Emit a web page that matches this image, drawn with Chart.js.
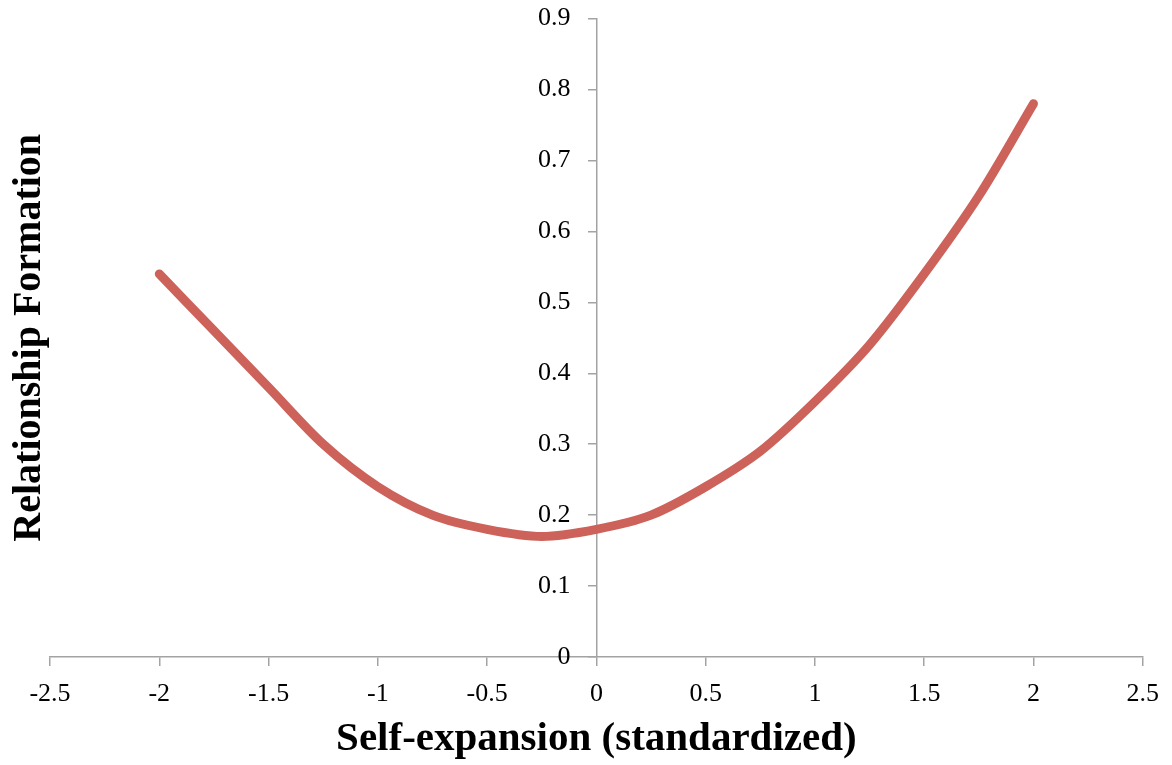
<!DOCTYPE html>
<html>
<head>
<meta charset="utf-8">
<script src="https://cdn.jsdelivr.net/npm/chart.js@4/dist/chart.umd.min.js"></script>
<style>
  html, body { margin: 0; padding: 0; background: #fff; }
  #wrap { width: 1172px; height: 765px; }
</style>
</head>
<body>
<div id="wrap"><canvas id="grafico" width="1172" height="765"></canvas></div>
<script>
// valores
const selfExpansion = [-2, -1.75, -1.5, -1.25, -1, -0.75, -0.5, -0.25, 0, 0.25, 0.5, 0.75, 1, 1.25, 1.5, 1.75, 2];
const formation = [0.54, 0.46, 0.38, 0.30, 0.24, 0.20, 0.18, 0.17, 0.18, 0.20, 0.24, 0.29, 0.36, 0.44, 0.54, 0.65, 0.78];

const xTitulo = 'Self-expansion (standardized)';
const yTitulo = 'Relationship Formation';

const pontos = selfExpansion.map((x, i) => ({ x: x, y: formation[i] }));

const corEixo = '#a3a3a3';
const fonte = 'Liberation Serif';

// formata 0.30000000000000004 -> "0.3", -2.0 -> "-2"
const rotulo = (v) => String(Math.round(v * 10) / 10);

const ctx = document.getElementById('grafico').getContext('2d');

const chart = new Chart(ctx, {
  type: 'line',
  data: {
    datasets: [{
      data: pontos,
      borderColor: '#cd625a',
      borderWidth: 9,
      borderCapStyle: 'round',
      borderJoinStyle: 'round',
      pointRadius: 0,
      cubicInterpolationMode: 'monotone',
      fill: false
    }]
  },
  options: {
    responsive: false,
    animation: false,
    layout: { padding: { top: 17, right: 23, left: 0, bottom: -3 } },
    plugins: { legend: { display: false }, tooltip: { enabled: false } },
    scales: {
      x: {
        type: 'linear',
        position: 'bottom',
        min: -2.5,
        max: 2.5,
        ticks: { stepSize: 0.5, color: '#000', font: { family: fonte, size: 26 }, padding: 13, callback: rotulo },
        grid: { drawOnChartArea: false, color: corEixo, tickLength: 9, lineWidth: 1.5 },
        border: { color: corEixo, width: 1.5 },
        title: { display: true, text: xTitulo, color: '#000', font: { family: fonte, size: 41, weight: 'bold', lineHeight: 0.8 }, padding: { top: 0, bottom: 12 } }
      },
      y: {
        type: 'linear',
        position: { x: 0 },
        min: 0,
        max: 0.9,
        // eixo no meio: o espaco no fim afasta o rotulo da linha
        ticks: { stepSize: 0.1, color: '#000', font: { family: fonte, size: 26 }, callback: (v) => rotulo(v) + '\u2003' },
        grid: { drawOnChartArea: false, color: corEixo, tickLength: 8, lineWidth: 1.5 },
        border: { color: corEixo, width: 1.5 }
      },
      yTitulo: {
        type: 'linear',
        position: 'left',
        min: 0,
        max: 0.9,
        ticks: { display: false },
        grid: { display: false, drawTicks: false },
        border: { display: false },
        title: { display: true, text: yTitulo, color: '#000', font: { family: fonte, size: 40, weight: 'bold', lineHeight: 1 }, padding: { top: 10, bottom: 0 } }
      }
    }
  }
});
</script>
</body>
</html>
